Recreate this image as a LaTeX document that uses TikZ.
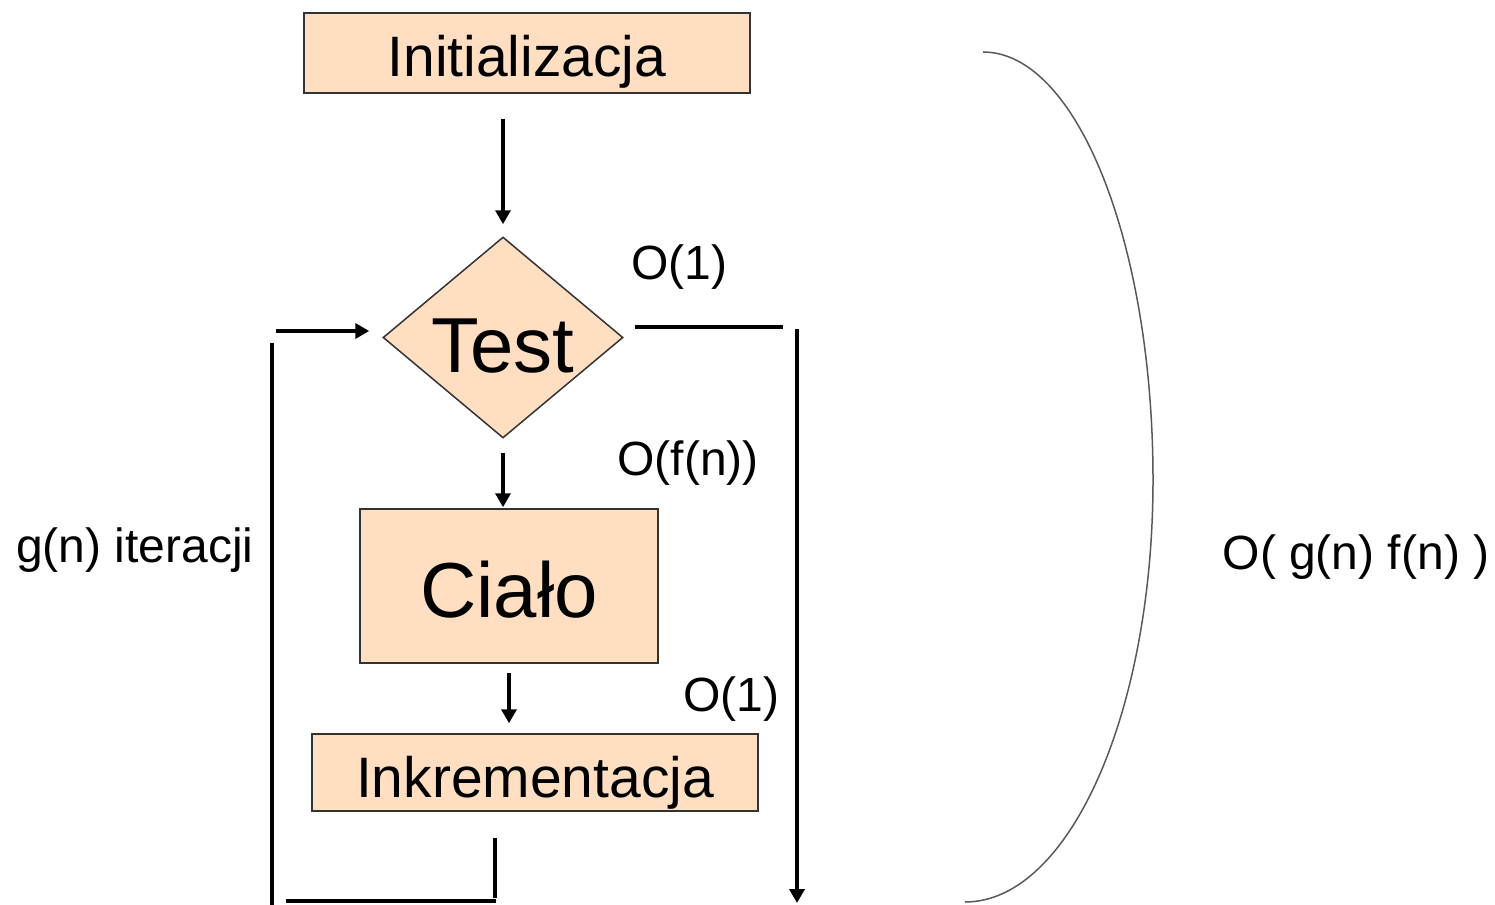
\documentclass[tikz,border=0pt]{standalone}
\usepackage{fontspec}
\setmainfont{Liberation Sans}
\usetikzlibrary{shapes.geometric, arrows.meta, positioning}
\definecolor{peach}{HTML}{FFDEC2}

\begin{document}
\begin{tikzpicture}[x=1pt, y=-1pt,
                    box/.style={draw=black!80, line width=1.5pt, fill=peach, inner sep=0pt},
                    big/.style={font=\fontsize{78}{82}\selectfont},
                    mid/.style={font=\fontsize{57}{60}\selectfont},
                    small/.style={font=\fontsize{48}{52}\selectfont, inner sep=0pt},
                    flow/.style={line width=4pt},
                    arr/.style={flow, -{Triangle[length=14pt,width=15pt]}}]
                    \useasboundingbox (0,0) rectangle (1495,904);
                    \clip (0,0) rectangle (1495,904);

                    \node (Init) [box, mid, minimum width=446pt, minimum height=80pt,
                                  text height=48pt, text depth=0pt] at (527,53) {Initializacja};
                    \node (Test) [box, big, diamond, aspect=1.19, minimum width=240pt,
                                  minimum height=201pt, text height=70pt, text depth=0pt] at (503,337.5) {Test};
                    \node (Cialo) [box, big, minimum width=298pt, minimum height=154pt,
                                   text height=62pt, text depth=0pt] at (509,586) {Ciało};
                    \node (Inkr) [box, mid, minimum width=446pt, minimum height=77pt,
                                  text height=49pt, text depth=0pt] at (535,772.5) {Inkrementacja};

                    \node (TestCost) [small] at (679,267) {O(1)};
                    \node (BodyCost) [small] at (688,463) {O(f(n))};
                    \node (IncrCost) [small] at (731,699) {O(1)};
                    \node (Iter) [small] at (135,550) {g(n) iteracji};
                    \node (Total) [small] at (1356,557) {O( g(n) f(n) )};

                    \draw[arr, shorten <=25pt, shorten >=12pt] (Init.south -| Test.north) -- (Test.north);
                    \draw[arr, shorten <=14pt, shorten >=1pt] (Test.south) -- (Test.south |- Cialo.north);
                    \draw[arr, shorten <=9pt, shorten >=10pt] (Cialo.south) -- (Cialo.south |- Inkr.north);

                    \coordinate (Out1) at (635,327);
                    \coordinate (Out2) at (783,327);
                    \coordinate (Out3) at (797,329);
                    \coordinate (Out4) at (797,903);
                    \draw[flow] (Out1) -- (Out2);
                    \draw[arr] (Out3) -- (Out4);

                    \coordinate (Back1) at (495,838);
                    \coordinate (Back2) at (495,898);
                    \coordinate (Back3) at (496,901);
                    \coordinate (Back4) at (286,901);
                    \coordinate (Back5) at (272,906);
                    \coordinate (Back6) at (272,343);
                    \coordinate (Back7) at (276,331);
                    \draw[flow] (Back1) -- (Back2);
                    \draw[flow] (Back3) -- (Back4);
                    \draw[flow] (Back5) -- (Back6);
                    \draw[arr, shorten >=13pt] (Back7) -- (Back7 -| Test.west);

                    \draw[black!65, line width=1.5pt] (983,52) .. controls (1077,52) and (1153,244) .. (1153,480)
                        .. controls (1153,713) and (1069,902) .. (965,902);
                \end{tikzpicture}
\end{document}
